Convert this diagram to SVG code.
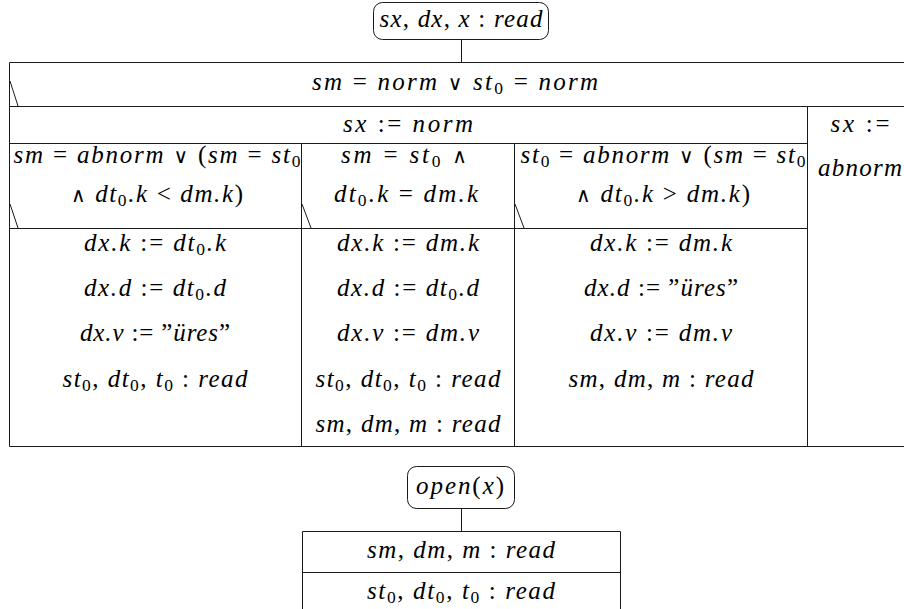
<svg xmlns="http://www.w3.org/2000/svg" width="904" height="609" viewBox="0 0 904 609">
<style>
.ln{stroke:#1a1a1a;stroke-width:1;fill:none}
.bx{stroke:#1a1a1a;stroke-width:1;fill:#fff}
.t{font-style:italic;font-size:25px;text-anchor:middle;fill:#000}
.u{font-style:normal}
.s{font-style:normal;font-size:17.5px}
.o{font-style:normal;font-size:20px}
</style>
<rect width="904" height="609" fill="#fff"/>
<g id="connectors">
<line class="ln" x1="461.5" y1="40" x2="461.5" y2="62"/>
<line class="ln" x1="461.5" y1="509" x2="461.5" y2="531"/>
</g>
<g font-family="Liberation Serif, serif">
<g id="start">
<rect class="bx" x="373.5" y="2.5" width="175" height="37" rx="9"/>
<text class="t" x="461" y="27" textLength="163" lengthAdjust="spacing">sx<tspan class="u">, </tspan>dx<tspan class="u">, </tspan>x <tspan class="u">:</tspan> read</text>
</g>
<g id="selection">
<path class="ln" d="M9.5 62.5H904M9.5 62.5V446.5H904M9.5 106.5H904M9.5 143.5H807.5M9.5 228.5H807.5M807.5 106.5V446.5M301.5 143.5V446.5M514.5 143.5V446.5"/>
<path class="ln" d="M10 81L18 106M10 204L18 228M302 204L311 228M515 204L524 228"/>
<text class="t" x="455" y="90" textLength="286" lengthAdjust="spacing">sm <tspan class="u">=</tspan> norm <tspan class="o" font-family="DejaVu Serif">∨</tspan> st<tspan class="s" dy="4">0</tspan><tspan class="u" dy="-4"> =</tspan> norm</text>
<text class="t" x="408" y="132" textLength="130" lengthAdjust="spacing">sx <tspan class="u">:=</tspan> norm</text>
<text class="t" x="860" y="132" textLength="59" lengthAdjust="spacing">sx <tspan class="u">:=</tspan></text>
<text class="t" x="860" y="176" textLength="84" lengthAdjust="spacing">abnorm</text>
<text class="t" x="157" y="163" textLength="287" lengthAdjust="spacing">sm <tspan class="u">=</tspan> abnorm <tspan class="o" font-family="DejaVu Serif">∨</tspan><tspan class="u"> (</tspan>sm <tspan class="u">=</tspan> st<tspan class="s" dy="4">0</tspan></text>
<text class="t" x="157" y="202" textLength="172" lengthAdjust="spacing"><tspan class="o" font-family="DejaVu Serif">∧</tspan> dt<tspan class="s" dy="4">0</tspan><tspan dy="-4">.k </tspan><tspan class="u">&lt;</tspan> dm.k<tspan class="u">)</tspan></text>
<text class="t" x="404" y="163" textLength="126" lengthAdjust="spacing">sm <tspan class="u">=</tspan> st<tspan class="s" dy="4">0</tspan><tspan dy="-4"> </tspan><tspan class="o" font-family="DejaVu Serif">∧</tspan></text>
<text class="t" x="406" y="202" textLength="144" lengthAdjust="spacing">dt<tspan class="s" dy="4">0</tspan><tspan dy="-4">.k </tspan><tspan class="u">=</tspan> dm.k</text>
<text class="t" x="663" y="163" textLength="285" lengthAdjust="spacing">st<tspan class="s" dy="4">0</tspan><tspan class="u" dy="-4"> =</tspan> abnorm <tspan class="o" font-family="DejaVu Serif">∨</tspan><tspan class="u"> (</tspan>sm <tspan class="u">=</tspan> st<tspan class="s" dy="4">0</tspan></text>
<text class="t" x="663" y="202" textLength="174" lengthAdjust="spacing"><tspan class="o" font-family="DejaVu Serif">∧</tspan> dt<tspan class="s" dy="4">0</tspan><tspan dy="-4">.k </tspan><tspan class="u">&gt;</tspan> dm.k<tspan class="u">)</tspan></text>
</g>
<g id="branch1">
<text class="t" x="155" y="251" textLength="142" lengthAdjust="spacing">dx.k <tspan class="u">:=</tspan> dt<tspan class="s" dy="4">0</tspan><tspan dy="-4">.k</tspan></text>
<text class="t" x="155" y="296" textLength="142" lengthAdjust="spacing">dx.d <tspan class="u">:=</tspan> dt<tspan class="s" dy="4">0</tspan><tspan dy="-4">.d</tspan></text>
<text class="t" x="155" y="341" textLength="150" lengthAdjust="spacing">dx.v <tspan class="u">:= ”</tspan>üres<tspan class="u">”</tspan></text>
<text class="t" x="155" y="387" textLength="185" lengthAdjust="spacing">st<tspan class="s" dy="4">0</tspan><tspan class="u" dy="-4">, </tspan>dt<tspan class="s" dy="4">0</tspan><tspan class="u" dy="-4">, </tspan>t<tspan class="s" dy="4">0</tspan><tspan class="u" dy="-4"> :</tspan> read</text>
</g>
<g id="branch2">
<text class="t" x="408" y="251" textLength="142" lengthAdjust="spacing">dx.k <tspan class="u">:=</tspan> dm.k</text>
<text class="t" x="408" y="296" textLength="142" lengthAdjust="spacing">dx.d <tspan class="u">:=</tspan> dt<tspan class="s" dy="4">0</tspan><tspan dy="-4">.d</tspan></text>
<text class="t" x="408" y="341" textLength="142" lengthAdjust="spacing">dx.v <tspan class="u">:=</tspan> dm.v</text>
<text class="t" x="408" y="387" textLength="185" lengthAdjust="spacing">st<tspan class="s" dy="4">0</tspan><tspan class="u" dy="-4">, </tspan>dt<tspan class="s" dy="4">0</tspan><tspan class="u" dy="-4">, </tspan>t<tspan class="s" dy="4">0</tspan><tspan class="u" dy="-4"> :</tspan> read</text>
<text class="t" x="408" y="432" textLength="185" lengthAdjust="spacing">sm<tspan class="u">, </tspan>dm<tspan class="u">, </tspan>m <tspan class="u">:</tspan> read</text>
</g>
<g id="branch3">
<text class="t" x="661" y="251" textLength="142" lengthAdjust="spacing">dx.k <tspan class="u">:=</tspan> dm.k</text>
<text class="t" x="661" y="296" textLength="154" lengthAdjust="spacing">dx.d <tspan class="u">:= ”</tspan>üres<tspan class="u">”</tspan></text>
<text class="t" x="661" y="341" textLength="142" lengthAdjust="spacing">dx.v <tspan class="u">:=</tspan> dm.v</text>
<text class="t" x="661" y="387" textLength="185" lengthAdjust="spacing">sm<tspan class="u">, </tspan>dm<tspan class="u">, </tspan>m <tspan class="u">:</tspan> read</text>
</g>
<g id="open">
<rect class="bx" x="407.5" y="466.5" width="107" height="42" rx="9"/>
<text class="t" x="460" y="494" textLength="88" lengthAdjust="spacing">open<tspan class="u">(</tspan>x<tspan class="u">)</tspan></text>
</g>
<g id="sequence">
<path class="ln" d="M302.5 609V531.5H620.5V609M302.5 572.5H620.5"/>
<text class="t" x="461" y="558" textLength="188" lengthAdjust="spacing">sm<tspan class="u">, </tspan>dm<tspan class="u">, </tspan>m <tspan class="u">:</tspan> read</text>
<text class="t" x="461" y="599" textLength="188" lengthAdjust="spacing">st<tspan class="s" dy="4">0</tspan><tspan class="u" dy="-4">, </tspan>dt<tspan class="s" dy="4">0</tspan><tspan class="u" dy="-4">, </tspan>t<tspan class="s" dy="4">0</tspan><tspan class="u" dy="-4"> :</tspan> read</text>
</g>
</g>
</svg>
